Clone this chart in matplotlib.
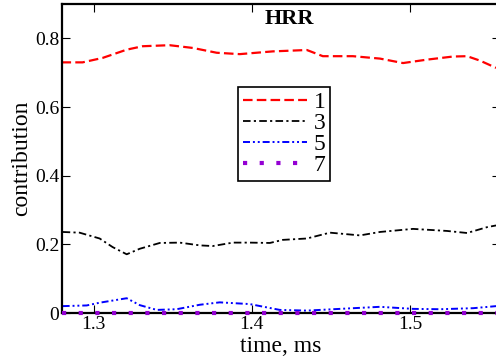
import matplotlib
matplotlib.use('Agg')
import matplotlib.pyplot as plt
import numpy as np

plt.rcParams['font.family'] = ['Liberation Serif', 'DejaVu Serif']

# series (time in ms, contribution)
t1 = [1.2797, 1.293, 1.3057, 1.3209, 1.331, 1.348, 1.3627, 1.3778, 1.3924, 1.4133,
      1.4348, 1.4449, 1.4639, 1.481, 1.4956, 1.5108, 1.5272, 1.5361, 1.5443, 1.5544]
c1 = [0.730, 0.730, 0.743, 0.767, 0.777, 0.780, 0.772, 0.758, 0.754, 0.762,
      0.766, 0.748, 0.748, 0.741, 0.728, 0.738, 0.747, 0.748, 0.735, 0.714]

t3 = [1.2804, 1.2911, 1.3038, 1.312, 1.3209, 1.3291, 1.3418, 1.3544, 1.3671, 1.3753,
      1.388, 1.3987, 1.4114, 1.4196, 1.4348, 1.4494, 1.4684, 1.481, 1.5019, 1.5234,
      1.5361, 1.5487, 1.5544]
c3 = [0.236, 0.234, 0.217, 0.192, 0.171, 0.187, 0.204, 0.205, 0.197, 0.195,
      0.205, 0.205, 0.204, 0.213, 0.217, 0.234, 0.226, 0.236, 0.245, 0.239,
      0.233, 0.250, 0.255]

t5 = [1.2804, 1.2956, 1.3038, 1.3209, 1.3291, 1.3399, 1.3525, 1.3671, 1.3797, 1.3987,
      1.4177, 1.4348, 1.4557, 1.481, 1.5019, 1.519, 1.5399, 1.5544]
c5 = [0.020, 0.022, 0.030, 0.043, 0.023, 0.009, 0.011, 0.024, 0.031, 0.026,
      0.009, 0.007, 0.012, 0.018, 0.012, 0.011, 0.014, 0.020]

t7 = [1.28, 1.5569]
c7 = [0.0, 0.0]

labels = ['1', '3', '5', '7']

fig = plt.figure(figsize=(4.96, 3.64), dpi=100)
ax = fig.add_axes([62/496, 1-313/364, 438/496, 309/364])

ax.plot(t1, c1, color='red', lw=1.6, linestyle=(0, (4.3, 1.9)), label=labels[0])
ax.plot(t3, c3, color='black', lw=1.3, linestyle=(0, (4.2, 1.8, 1.2, 1.8)), label=labels[1])
ax.plot(t5, c5, color='blue', lw=1.4, linestyle=(0, (3.6, 1.5, 1.0, 1.5, 1.0, 1.5)), label=labels[2])
ax.plot(t7, c7, color='#9400D3', lw=3.0, linestyle=(0, (1, 3.0)), dash_capstyle='butt',
        label=labels[3], clip_on=False, zorder=3)

ax.set_xlim(1.28, 1.5569)
ax.set_ylim(0, 0.9)
ax.set_xticks([1.3, 1.4, 1.5])
ax.set_yticks([0, 0.2, 0.4, 0.6, 0.8])
ax.set_xticklabels(['1.3', '1.4', '1.5'])
ax.set_yticklabels(['0', '0.2', '0.4', '0.6', '0.8'])
ax.tick_params(direction='in', length=6, width=0.8, top=True, right=True,
               labelsize=14, pad=2)
for s in ax.spines.values():
    s.set_linewidth(1.6)

ax.set_xlabel('time, ms', fontsize=17, labelpad=2)
ax.set_ylabel('contribution', fontsize=17, labelpad=2)
ax.text(0.518, 0.985, 'HRR', transform=ax.transAxes, ha='center', va='top',
        fontsize=16, fontweight='bold')

leg = ax.legend(loc='upper left', bbox_to_anchor=(0.402, 0.731), borderaxespad=0,
                fontsize=17, handlelength=2.7, handletextpad=0.3, labelspacing=-0.03,
                borderpad=0.2, fancybox=False, framealpha=1, edgecolor='black')
leg.get_frame().set_linewidth(1.2)

fig.savefig('out.png', dpi=100)
